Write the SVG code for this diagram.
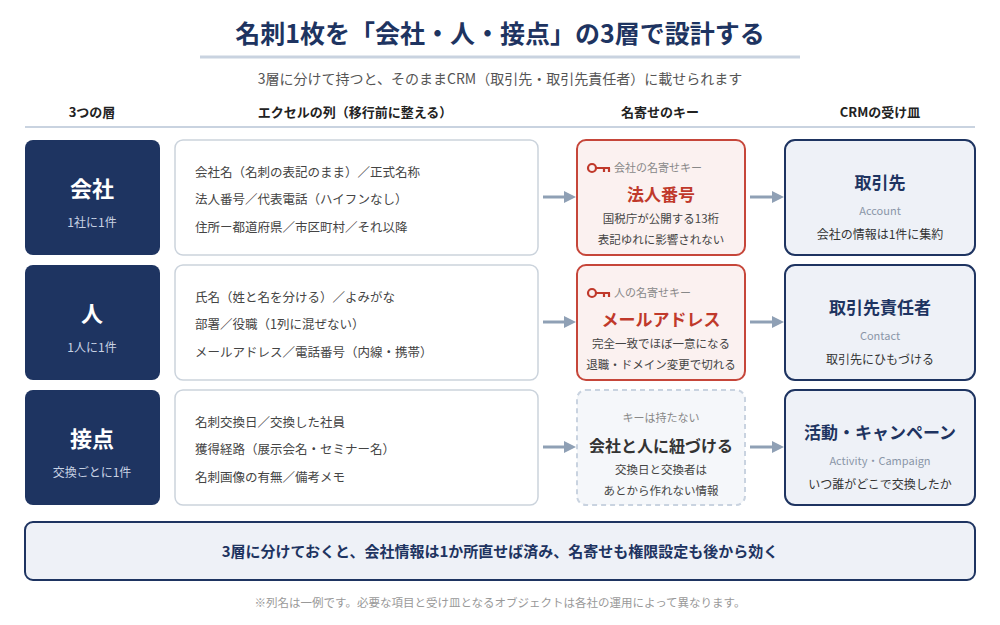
<svg xmlns="http://www.w3.org/2000/svg" width="1000" height="625" viewBox="0 0 1000 625">
<style>
text{font-family:"Noto Sans CJK JP","Noto Sans",sans-serif;text-anchor:middle}
.hd{font-size:13px;font-weight:bold;fill:#222}
.layer{fill:#1e3461}
.lt{font-size:22px;font-weight:bold;fill:#fff}
.ls{font-size:12px;fill:#c8d2e4}
.xl{fill:#fff;stroke:#cbd3dc;stroke-width:1.5}
.xt{font-size:12.5px;fill:#444;text-anchor:start}
.key{fill:#fbf1f0;stroke:#c6463a;stroke-width:2}
.kl{font-size:11px;fill:#888;text-anchor:start}
.kt{font-size:17px;font-weight:bold;fill:#c0392b}
.ks{font-size:11.5px;fill:#444}
.crm{fill:#eef1f7;stroke:#1e3461;stroke-width:2}
.ct{font-size:17px;font-weight:bold;fill:#1e3461}
.ce{font-size:11px;fill:#8a96a8}
.cs{font-size:12px;fill:#333}
.arr{stroke:#8fa0b5;stroke-width:3;fill:none;marker-end:url(#ah)}
.ic{fill:none;stroke:#c0392b;stroke-width:2.2}
</style>
<defs><marker id="ah" markerWidth="4" markerHeight="4" refX="2" refY="2" orient="auto"><path d="M0,0L4,2L0,4z" fill="#8fa0b5"/></marker></defs>
<rect width="1000" height="625" fill="#fff"/>
<text x="500" y="43" style="font-size:25px;font-weight:bold;fill:#1e3461">名刺1枚を「会社・人・接点」の3層で設計する</text>
<line x1="200" y1="57" x2="800" y2="57" stroke="#c9d3e0" stroke-width="3"/>
<text x="500" y="84" style="font-size:14px;fill:#555">3層に分けて持つと、そのままCRM（取引先・取引先責任者）に載せられます</text>
<text class="hd" x="92" y="117">3つの層</text>
<text class="hd" x="355" y="117">エクセルの列（移行前に整える）</text>
<text class="hd" x="660" y="117">名寄せのキー</text>
<text class="hd" x="880" y="117">CRMの受け皿</text>
<line x1="25" y1="127" x2="975" y2="127" stroke="#c9d3e0" stroke-width="2"/>

<g id="connectors">
<line class="arr" x1="543" y1="197" x2="570" y2="197"/>
<line class="arr" x1="750" y1="197" x2="778" y2="197"/>
<line class="arr" x1="543" y1="322" x2="570" y2="322"/>
<line class="arr" x1="750" y1="322" x2="778" y2="322"/>
<line class="arr" x1="543" y1="447" x2="570" y2="447"/>
<line class="arr" x1="750" y1="447" x2="778" y2="447"/>
</g>

<g id="layer-company"><rect class="layer" x="25" y="140" width="135" height="115" rx="8"/><text class="lt" x="92" y="197">会社</text><text class="ls" x="92" y="227">1社に1件</text></g>
<g id="cols-company"><rect class="xl" x="175" y="140" width="363" height="115" rx="8"/>
<text class="xt" x="195" y="177">会社名（名刺の表記のまま）／正式名称</text>
<text class="xt" x="195" y="204">法人番号／代表電話（ハイフンなし）</text>
<text class="xt" x="195" y="232">住所ー都道府県／市区町村／それ以降</text></g>
<g id="key-company"><rect class="key" x="577" y="140" width="168" height="115" rx="9"/>
<circle class="ic" cx="592" cy="168" r="4"/><path class="ic" d="M596,168H610M604,168V172M609,168V172"/>
<text class="kl" x="614" y="172">会社の名寄せキー</text>
<text class="kt" x="661" y="201">法人番号</text>
<text class="ks" x="661" y="223">国税庁が公開する13桁</text>
<text class="ks" x="661" y="244">表記ゆれに影響されない</text></g>
<g id="crm-account"><rect class="crm" x="785" y="140" width="190" height="115" rx="10"/>
<text class="ct" x="880" y="189">取引先</text><text class="ce" x="880" y="215">Account</text><text class="cs" x="880" y="239">会社の情報は1件に集約</text></g>

<g id="layer-person"><rect class="layer" x="25" y="265" width="135" height="115" rx="8"/><text class="lt" x="92" y="322">人</text><text class="ls" x="92" y="352">1人に1件</text></g>
<g id="cols-person"><rect class="xl" x="175" y="265" width="363" height="115" rx="8"/>
<text class="xt" x="195" y="302">氏名（姓と名を分ける）／よみがな</text>
<text class="xt" x="195" y="329">部署／役職（1列に混ぜない）</text>
<text class="xt" x="195" y="357">メールアドレス／電話番号（内線・携帯）</text></g>
<g id="key-person"><rect class="key" x="577" y="265" width="168" height="115" rx="9"/>
<circle class="ic" cx="592" cy="293" r="4"/><path class="ic" d="M596,293H610M604,293V297M609,293V297"/>
<text class="kl" x="614" y="297">人の名寄せキー</text>
<text class="kt" x="661" y="326">メールアドレス</text>
<text class="ks" x="661" y="348">完全一致でほぼ一意になる</text>
<text class="ks" x="661" y="369">退職・ドメイン変更で切れる</text></g>
<g id="crm-contact"><rect class="crm" x="785" y="265" width="190" height="115" rx="10"/>
<text class="ct" x="880" y="314">取引先責任者</text><text class="ce" x="880" y="340">Contact</text><text class="cs" x="880" y="364">取引先にひもづける</text></g>

<g id="layer-touch"><rect class="layer" x="25" y="390" width="135" height="115" rx="8"/><text class="lt" x="92" y="447">接点</text><text class="ls" x="92" y="477">交換ごとに1件</text></g>
<g id="cols-touch"><rect class="xl" x="175" y="390" width="363" height="115" rx="8"/>
<text class="xt" x="195" y="427">名刺交換日／交換した社員</text>
<text class="xt" x="195" y="454">獲得経路（展示会名・セミナー名）</text>
<text class="xt" x="195" y="482">名刺画像の有無／備考メモ</text></g>
<g id="key-touch"><rect x="577" y="390" width="168" height="115" rx="9" fill="#f5f7fa" stroke="#c9d3e0" stroke-width="2" stroke-dasharray="5,4"/>
<text x="661" y="422" style="font-size:11px;fill:#888">キーは持たない</text>
<text x="661" y="452" style="font-size:16px;font-weight:bold;fill:#333">会社と人に紐づける</text>
<text class="ks" x="661" y="474">交換日と交換者は</text>
<text class="ks" x="661" y="495">あとから作れない情報</text></g>
<g id="crm-activity"><rect class="crm" x="785" y="390" width="190" height="115" rx="10"/>
<text class="ct" x="880" y="439">活動・キャンペーン</text><text class="ce" x="880" y="465">Activity・Campaign</text><text class="cs" x="880" y="489">いつ誰がどこで交換したか</text></g>

<g id="summary"><rect class="crm" x="25" y="522" width="950" height="58" rx="8"/>
<text x="500" y="557" style="font-size:15px;font-weight:bold;fill:#1e3461">3層に分けておくと、会社情報は1か所直せば済み、名寄せも権限設定も後から効く</text></g>
<text x="500" y="607" style="font-size:11.5px;fill:#999">※列名は一例です。必要な項目と受け皿となるオブジェクトは各社の運用によって異なります。</text>
</svg>
